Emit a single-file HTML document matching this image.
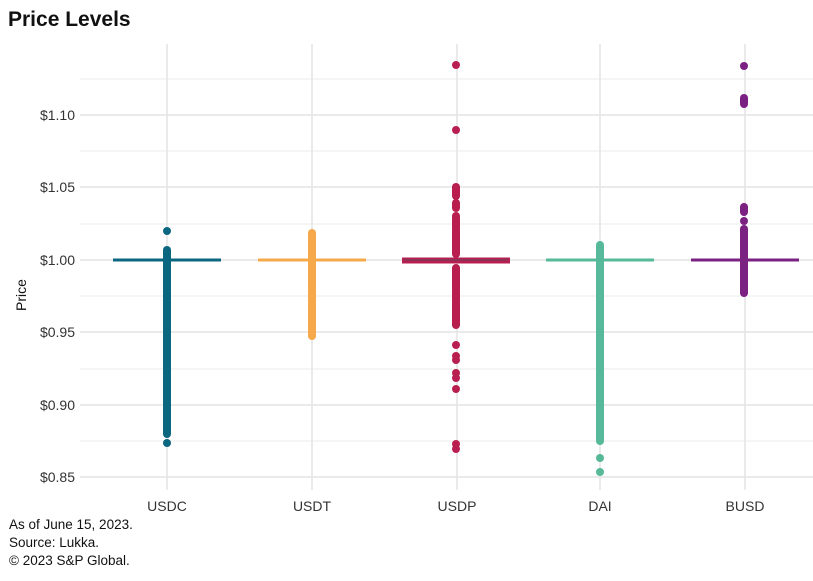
<!DOCTYPE html>
<html><head><meta charset="utf-8"><style>
body{margin:0;background:#fff;font-family:"Liberation Sans",sans-serif;}
</style></head><body>
<svg width="813" height="576" xmlns="http://www.w3.org/2000/svg" font-family="Liberation Sans, sans-serif">
<text x="8" y="26" font-size="21" font-weight="bold" fill="#111">Price Levels</text>
<g stroke="#ebebeb" stroke-width="1">
<line x1="80" x2="815" y1="79" y2="79"/><line x1="80" x2="815" y1="151" y2="151"/><line x1="80" x2="815" y1="224" y2="224"/><line x1="80" x2="815" y1="296" y2="296"/><line x1="80" x2="815" y1="369" y2="369"/><line x1="80" x2="815" y1="441" y2="441"/>
</g>
<g stroke="#e4e4e4" stroke-width="1.5">
<line x1="80" x2="815" y1="115" y2="115"/><line x1="80" x2="815" y1="187" y2="187"/><line x1="80" x2="815" y1="260" y2="260"/><line x1="80" x2="815" y1="332" y2="332"/><line x1="80" x2="815" y1="405" y2="405"/><line x1="80" x2="815" y1="477" y2="477"/>
<line x1="167" x2="167" y1="44" y2="490"/><line x1="312" x2="312" y1="44" y2="490"/><line x1="457" x2="457" y1="44" y2="490"/><line x1="600" x2="600" y1="44" y2="490"/><line x1="745" x2="745" y1="44" y2="490"/>
</g>
<g font-size="14" fill="#333" text-anchor="end">
<text x="75" y="120">$1.10</text><text x="75" y="192">$1.05</text><text x="75" y="265">$1.00</text><text x="75" y="337">$0.95</text><text x="75" y="410">$0.90</text><text x="75" y="482">$0.85</text>
</g>
<text transform="translate(26,295) rotate(-90)" font-size="14" fill="#111" text-anchor="middle">Price</text>
<g font-size="14" fill="#333" text-anchor="middle">
<text x="167" y="511">USDC</text><text x="312" y="511">USDT</text><text x="457" y="511">USDP</text><text x="600" y="511">DAI</text><text x="745" y="511">BUSD</text>
</g>
<!-- USDC -->
<g fill="#0b6680" stroke="#0b6680">
<line x1="113" x2="221" y1="260" y2="260" stroke-width="3"/>
<line x1="167" x2="167" y1="250" y2="434" stroke-width="8" stroke-linecap="round"/>
<circle cx="167" cy="231" r="4" stroke="none"/><circle cx="167" cy="443" r="4" stroke="none"/>
</g>
<!-- USDT -->
<g fill="#f5a94a" stroke="#f5a94a">
<line x1="258" x2="366" y1="260" y2="260" stroke-width="3"/>
<line x1="312" x2="312" y1="233" y2="336" stroke-width="8" stroke-linecap="round"/>
</g>
<!-- USDP -->
<g fill="#b81f50" stroke="#b81f50">
<rect x="402" y="257.5" width="108" height="6" stroke="none"/>
<line x1="404" x2="508" y1="260" y2="260" stroke="#7a3a55" stroke-width="1.5"/>
<circle cx="456" cy="65" r="4" stroke="none"/><circle cx="456" cy="130" r="4" stroke="none"/>
<line x1="456" x2="456" y1="187" y2="196" stroke-width="8" stroke-linecap="round"/>
<line x1="456" x2="456" y1="203" y2="208" stroke-width="8" stroke-linecap="round"/>
<line x1="456" x2="456" y1="216" y2="254" stroke-width="8" stroke-linecap="round"/>
<line x1="456" x2="456" y1="268" y2="325" stroke-width="8" stroke-linecap="round"/>
<circle cx="456" cy="345" r="4" stroke="none"/><circle cx="456" cy="356" r="4" stroke="none"/><circle cx="456" cy="360" r="4" stroke="none"/><circle cx="456" cy="373" r="4" stroke="none"/><circle cx="456" cy="378" r="4" stroke="none"/><circle cx="456" cy="389" r="4" stroke="none"/>
<circle cx="456" cy="444" r="4" stroke="none"/><circle cx="456" cy="449" r="4" stroke="none"/>
</g>
<!-- DAI -->
<g fill="#56b99a" stroke="#56b99a">
<line x1="546" x2="654" y1="260" y2="260" stroke-width="3"/>
<line x1="600" x2="600" y1="245" y2="441" stroke-width="8" stroke-linecap="round"/>
<circle cx="600" cy="458" r="4" stroke="none"/><circle cx="600" cy="472" r="4" stroke="none"/>
</g>
<!-- BUSD -->
<g fill="#7a2182" stroke="#7a2182">
<line x1="691" x2="799" y1="260" y2="260" stroke-width="3"/>
<circle cx="744" cy="66" r="4" stroke="none"/>
<line x1="744" x2="744" y1="98" y2="104" stroke-width="8" stroke-linecap="round"/>
<line x1="744" x2="744" y1="207" y2="212" stroke-width="8" stroke-linecap="round"/>
<circle cx="744" cy="221" r="4" stroke="none"/>
<line x1="744" x2="744" y1="229" y2="293" stroke-width="8" stroke-linecap="round"/>
</g>
<g font-size="13.5" fill="#111">
<text x="9" y="529">As of June 15, 2023.</text>
<text x="9" y="547">Source: Lukka.</text>
<text x="9" y="565">© 2023 S&amp;P Global.</text>
</g>
</svg>
</body></html>
